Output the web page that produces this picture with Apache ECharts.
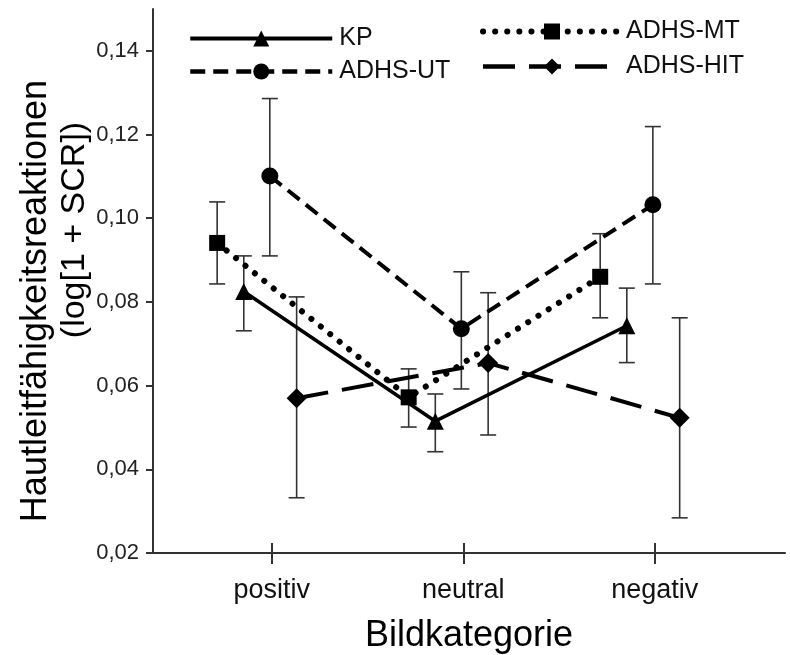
<!DOCTYPE html>
<html><head><meta charset="utf-8">
<script src="https://cdn.jsdelivr.net/npm/echarts@6/dist/echarts.min.js"></script>
<style>html,body{margin:0;padding:0;background:#fff}#c{width:790px;height:655px}</style>
</head><body><div id="c"></div>
<script>
// ---- data ----
const categories = ['positiv', 'neutral', 'negativ'];
const yTickValues = [0.02, 0.04, 0.06, 0.08, 0.10, 0.12, 0.14];

const kpMean  = [0.0825, 0.0515, 0.0743];
const kpLow   = [0.0731, 0.0442, 0.0655];
const kpHigh  = [0.0910, 0.0580, 0.0833];

const utMean  = [0.1101, 0.0736, 0.1032];
const utLow   = [0.0910, 0.0592, 0.0843];
const utHigh  = [0.1286, 0.0872, 0.1219];

const mtMean  = [0.0941, 0.0572, 0.0860];
const mtLow   = [0.0843, 0.0501, 0.0762];
const mtHigh  = [0.1039, 0.0640, 0.0963];

const hitMean = [0.0570, 0.0654, 0.0523];
const hitLow  = [0.0332, 0.0482, 0.0284];
const hitHigh = [0.0812, 0.0822, 0.0762];

// ---- layout / style ----
const FONT = '"Liberation Sans", Arial, sans-serif';
const DODGE = { 'KP': -0.146, 'ADHS-UT': -0.01, 'ADHS-MT': -0.285, 'ADHS-HIT': 0.13 };
const catPos = categories.map((c, i) => i + 1);

function pts(name, arr) { return arr.map((v, i) => [catPos[i] + DODGE[name], v]); }

function errSeries(name, lows, highs) {
  return {
    type: 'custom', name: name + ' err', z: 1, silent: true,
    data: lows.map((l, i) => [catPos[i] + DODGE[name], l, highs[i]]),
    encode: { x: 0, y: [1, 2] },
    renderItem: function (params, api) {
      const x = api.value(0);
      const lo = api.coord([x, api.value(1)]);
      const hi = api.coord([x, api.value(2)]);
      const hw = 8;
      const st = { stroke: '#333', lineWidth: 1.6, fill: null };
      return { type: 'group', children: [
        { type: 'line', shape: { x1: lo[0], y1: lo[1], x2: hi[0], y2: hi[1] }, style: st },
        { type: 'line', shape: { x1: lo[0] - hw, y1: lo[1], x2: lo[0] + hw, y2: lo[1] }, style: st },
        { type: 'line', shape: { x1: hi[0] - hw, y1: hi[1], x2: hi[0] + hw, y2: hi[1] }, style: st }
      ] };
    }
  };
}

function lineSeries(name, data, symbol, size, ls) {
  return {
    type: 'line', name: name, data: pts(name, data), symbol: symbol, symbolSize: size,
    z: 3, animation: false,
    itemStyle: { color: '#000' },
    lineStyle: Object.assign({ color: '#000' }, ls)
  };
}

const axisCol = '#333';
const chart = echarts.init(document.getElementById('c'));
chart.setOption({
  animation: false,
  backgroundColor: '#fff',
  grid: { left: 153, right: 5, top: 9, bottom: 102, outerBoundsMode: 'none' },
  xAxis: [{
    type: 'value', min: 0.38, max: 3.68, position: 'bottom',
    axisLine: { lineStyle: { color: axisCol, width: 2 } },
    splitLine: { show: false },
    axisTick: { customValues: catPos, length: 11, lineStyle: { color: axisCol, width: 2 } },
    axisLabel: { customValues: catPos, formatter: v => categories[Math.round(v) - 1],
      fontSize: 27, color: '#111', margin: 24, fontFamily: FONT },
    name: 'Bildkategorie', nameLocation: 'middle', nameGap: 65,
    nameTextStyle: { fontSize: 36, color: '#000', fontFamily: FONT }
  }, {
    type: 'value', min: 0.38, max: 3.68, position: 'bottom',
    axisLine: { show: false }, splitLine: { show: false },
    axisTick: { inside: true, customValues: catPos, length: 10, lineStyle: { color: axisCol, width: 2 } },
    axisLabel: { show: false }
  }],
  yAxis: {
    type: 'value', min: 0.02, max: 0.15,
    axisLine: { show: true, lineStyle: { color: axisCol, width: 2 } },
    axisTick: { show: true, customValues: yTickValues, length: 7, lineStyle: { color: axisCol, width: 2 } },
    splitLine: { show: false },
    axisLabel: { customValues: yTickValues, formatter: v => v.toFixed(2).replace('.', ','),
      fontSize: 22, color: '#222', margin: 14, fontFamily: FONT }
  },
  legend: [{
    left: 183, top: 21, orient: 'vertical', itemWidth: 142, itemHeight: 20, itemGap: 8,
    selectedMode: false,
    textStyle: { fontSize: 25, color: '#111', fontFamily: FONT, padding: [0, 0, 0, 2] },
    data: [
      { name: 'KP', lineStyle: { width: 4 } },
      { name: 'ADHS-UT', lineStyle: { width: 4.5 } }
    ]
  }, {
    left: 475, top: 14, orient: 'vertical', itemWidth: 138, itemHeight: 20, itemGap: 10,
    selectedMode: false,
    textStyle: { fontSize: 25, color: '#111', fontFamily: FONT, padding: [0, 0, 0, 0] },
    data: [
      { name: 'ADHS-MT', lineStyle: { width: 6 } },
      { name: 'ADHS-HIT', lineStyle: { width: 4.5 } }
    ]
  }],
  graphic: [
    { type: 'text', x: 36, y: 301, rotation: Math.PI / 2,
      style: { text: 'Hautleitfähigkeitsreaktionen', fontSize: 36, fontFamily: FONT, fill: '#000',
        textAlign: 'center', textVerticalAlign: 'middle' } },
    { type: 'text', x: 75, y: 230, rotation: Math.PI / 2,
      style: { text: '(log[1 + SCR])', fontSize: 34, fontFamily: FONT, fill: '#000',
        textAlign: 'center', textVerticalAlign: 'middle' } }
  ],
  series: [
    errSeries('ADHS-MT', mtLow, mtHigh),
    errSeries('KP', kpLow, kpHigh),
    errSeries('ADHS-UT', utLow, utHigh),
    errSeries('ADHS-HIT', hitLow, hitHigh),
    lineSeries('KP', kpMean, 'triangle', 17, { width: 3.5, type: 'solid' }),
    lineSeries('ADHS-UT', utMean, 'circle', 17, { width: 4, type: [15, 8] }),
    lineSeries('ADHS-MT', mtMean, 'rect', 16, { width: 6, type: [0.1, 12], cap: 'round' }),
    lineSeries('ADHS-HIT', hitMean, 'diamond', 20, { width: 4, type: [32, 14] })
  ]
});
</script></body></html>
